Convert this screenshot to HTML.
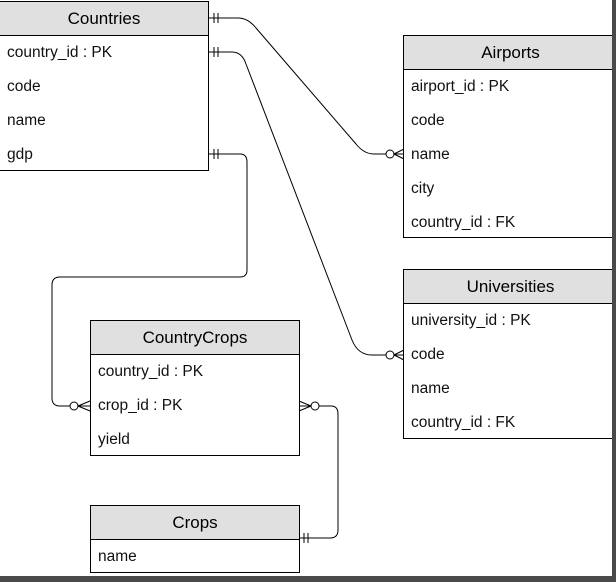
<!DOCTYPE html>
<html><head><style>
body{margin:0;width:616px;height:582px;background:#fff;overflow:hidden;position:relative;font-family:"Liberation Sans",Arial,sans-serif;}
.t{position:absolute;border:1px solid #000;background:#fff;box-sizing:border-box;}
.h{height:34px;background:#e0e0e0;border-bottom:1px solid #000;text-align:center;font-size:17px;line-height:34px;box-sizing:border-box;}
.r{height:34px;line-height:33px;font-size:15.5px;padding-left:7px;color:#111;}
.sr{position:absolute;right:0;top:0;width:4px;height:582px;background:#4a4a4a;}
.sb{position:absolute;left:0;top:576px;width:616px;height:6px;background:#4a4a4a;}
svg{position:absolute;left:0;top:0;}
</style></head><body>
<svg width="616" height="582" fill="none" stroke="#000" stroke-width="1">
<path d="M208 18 H238 Q248 18 256 28 L356 144 Q364 154 374 154 H386"/>
<path d="M208 52 H232 Q242 52 246 64 L352 340 Q358 355 372 355 H386"/>
<path d="M208 154 H240 Q247 154 247 162 V270 Q247 277 240 277 H60 Q52 277 52 285 V398 Q52 406 60 406 H70"/>
<path d="M319 406 H331 Q338 406 338 414 V530 Q338 538 330 538 H299"/>
<path d="M214 13 V23 M218 13 V23 M214 47 V57 M218 47 V57 M214 149 V159 M218 149 V159 M304 533 V543 M308 533 V543"/>
<circle cx="390" cy="154" r="4"/><path d="M394 154 L404 149 M394 154 L404 159 M394 154 H404"/>
<circle cx="390" cy="355" r="4"/><path d="M394 355 L404 350 M394 355 L404 360 M394 355 H404"/>
<circle cx="74" cy="406" r="4"/><path d="M78 406 L90 401 M78 406 L90 411 M78 406 H90"/>
<circle cx="315" cy="406" r="4"/><path d="M311 406 L299 401 M311 406 L299 411 M311 406 H299"/>
</svg>
<div class="t" style="left:-1px;top:1px;width:210px;height:170px"><div class="h">Countries</div><div class="r">country_id : PK</div><div class="r">code</div><div class="r">name</div><div class="r">gdp</div></div>
<div class="t" style="left:403px;top:35px;width:215px;height:203px"><div class="h">Airports</div><div class="r">airport_id : PK</div><div class="r">code</div><div class="r">name</div><div class="r">city</div><div class="r">country_id : FK</div></div>
<div class="t" style="left:403px;top:269px;width:215px;height:170px"><div class="h">Universities</div><div class="r">university_id : PK</div><div class="r">code</div><div class="r">name</div><div class="r">country_id : FK</div></div>
<div class="t" style="left:90px;top:320px;width:210px;height:136px"><div class="h">CountryCrops</div><div class="r">country_id : PK</div><div class="r">crop_id : PK</div><div class="r">yield</div></div>
<div class="t" style="left:90px;top:505px;width:210px;height:68px"><div class="h">Crops</div><div class="r">name</div></div>
<div class="sr"></div><div class="sb"></div>
</body></html>
